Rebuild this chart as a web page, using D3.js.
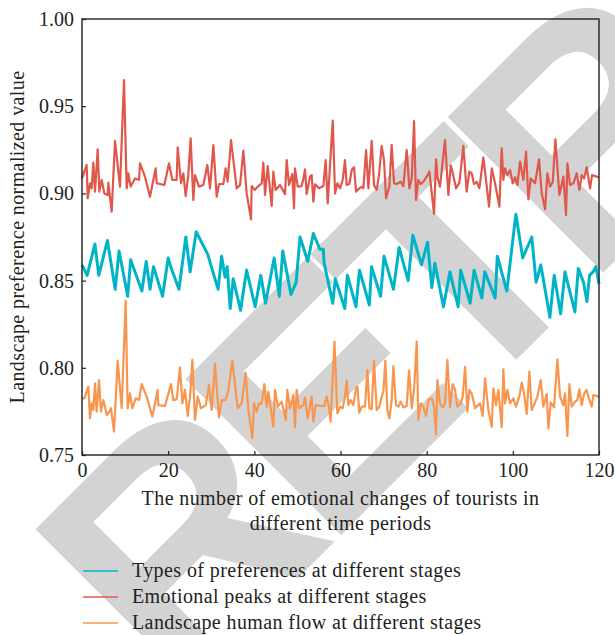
<!DOCTYPE html>
<html>
<head>
<meta charset="utf-8">
<script src="https://cdn.jsdelivr.net/npm/d3@7"></script>
<style>
  body { margin: 0; background: #fff; }
  svg { display: block; }
  text { font-family: "Liberation Serif", "DejaVu Serif", serif; fill: #231f20; }
</style>
</head>
<body>
<svg id="chart" width="615" height="635"></svg>
<script>
// series as [x, value]
const preferenceTypes = [
  [0,0.859],[1.2,0.853],[3.0,0.871],[3.9,0.853],[5.9,0.873],[7.7,0.845],[8.6,0.867],[10.6,0.841],
  [11.3,0.862],[13.9,0.844],[14.9,0.861],[15.8,0.845],[16.6,0.858],[18.7,0.841],[20.0,0.863],[20.6,0.858],
  [22.5,0.845],[24.1,0.875],[25.1,0.855],[26.5,0.878],[29.2,0.865],[29.9,0.859],[31.6,0.845],[32.4,0.864],
  [33.2,0.852],[33.7,0.858],[34.4,0.834],[35.1,0.851],[36.8,0.833],[38.2,0.856],[40.2,0.835],[41.5,0.853],
  [42.6,0.837],[44.6,0.863],[45.8,0.841],[46.6,0.867],[48.5,0.842],[49.7,0.849],[50.6,0.875],[52.4,0.861],
  [53.7,0.877],[55.2,0.868],[56.0,0.868],[56.2,0.860],[58.2,0.837],[58.8,0.851],[61.0,0.834],[61.6,0.853],
  [63.6,0.835],[64.4,0.856],[66.7,0.836],[67.2,0.858],[69.3,0.841],[70.1,0.864],[72.3,0.845],[73.6,0.869],
  [75.7,0.850],[76.8,0.876],[78.8,0.859],[80.2,0.872],[81.2,0.846],[81.9,0.860],[83.9,0.835],[85.4,0.855],
  [87.3,0.835],[87.9,0.856],[90.1,0.837],[91.0,0.856],[92.8,0.840],[93.5,0.855],[95.9,0.840],[96.4,0.864],
  [98.6,0.844],[100.7,0.888],[102.3,0.863],[104.4,0.875],[105.4,0.849],[106.5,0.859],[108.6,0.829],[109.6,0.853],
  [111.1,0.831],[112.1,0.855],[114.4,0.832],[115.2,0.857],[116.4,0.849],[117.2,0.838],[117.8,0.853],[118.6,0.855],
  [119.3,0.858],[120,0.848]
];

const emotionalPeaks = [
  [0,0.9086],[1.08,0.9163],[1.32,0.8972],[1.86,0.9058],[2.24,0.9029],[2.63,0.9176],[3.02,0.9010],[3.64,0.9253],
  [4.02,0.9010],[4.57,0.9077],[5.18,0.9000],[5.96,0.8991],[6.11,0.9062],[6.89,0.8895],[7.66,0.9302],[8.82,0.9039],
  [9.75,0.9650],[10.37,0.9029],[10.75,0.9115],[11.30,0.9039],[12.30,0.9086],[13.23,0.9077],[13.46,0.9172],[14.62,0.9096],
  [15.78,0.8981],[17.10,0.9144],[17.33,0.9058],[19.11,0.9048],[20.19,0.9172],[20.97,0.9077],[21.97,0.9077],[22.21,0.9264],
  [22.98,0.9058],[23.52,0.9115],[24.06,0.8985],[24.68,0.9105],[25.22,0.9316],[25.84,0.8962],[26.23,0.9105],[27.16,0.9039],
  [28.16,0.9048],[29.09,0.9163],[29.71,0.9029],[30.49,0.9277],[31.26,0.8981],[31.80,0.9054],[32.81,0.9054],[33.35,0.9144],
  [33.81,0.9067],[34.59,0.9306],[35.90,0.9029],[36.68,0.9048],[37.45,0.9245],[38.22,0.9000],[39.23,0.8851],[39.38,0.9042],
  [40.16,0.9020],[40.78,0.9039],[41.71,0.9058],[42.09,0.9176],[42.48,0.8991],[43.10,0.9157],[44.03,0.8928],[44.41,0.9125],
  [44.95,0.9020],[45.96,0.9048],[47.12,0.8996],[47.51,0.9191],[48.05,0.9048],[48.82,0.9111],[49.21,0.8914],[49.44,0.9144],
  [50.06,0.9039],[50.99,0.9042],[51.38,0.9086],[51.76,0.9138],[52.15,0.8996],[52.92,0.9096],[53.31,0.9105],[53.70,0.8952],
  [54.08,0.9052],[55.01,0.9029],[56.02,0.9042],[56.56,0.9191],[57.03,0.8943],[58.2,0.9417],[58.73,0.9000],[59.27,0.9058],
  [59.89,0.9029],[60.51,0.9077],[61.05,0.9191],[61.44,0.9048],[62.06,0.9054],[62.60,0.9134],[63.14,0.9150],[63.61,0.9010],
  [64.38,0.9029],[65.15,0.9039],[65.31,0.9029],[65.93,0.9249],[66.47,0.9029],[67.24,0.9302],[67.78,0.9048],[68.40,0.9020],
  [68.94,0.9105],[69.56,0.9272],[70.10,0.9191],[70.57,0.8972],[71.34,0.9039],[71.88,0.9278],[72.43,0.9058],[73.04,0.9054],
  [73.97,0.9067],[74.59,0.9042],[75.37,0.9249],[75.99,0.9029],[76.53,0.9086],[77.07,0.9415],[77.53,0.8962],[78.07,0.9077],
  [78.62,0.9054],[79.23,0.9067],[80.01,0.9096],[80.63,0.9125],[81.71,0.8882],[82.18,0.9195],[82.48,0.9096],[83.10,0.9039],
  [84.26,0.9306],[85.04,0.8991],[85.58,0.9161],[86.04,0.9119],[86.82,0.9029],[87.59,0.9062],[88.52,0.9272],[89.29,0.9010],
  [89.91,0.9125],[90.45,0.9115],[90.99,0.9054],[91.61,0.9067],[92.23,0.9029],[93.16,0.9207],[94.48,0.8924],[95.10,0.9143],
  [95.87,0.9058],[96.88,0.8924],[97.42,0.9258],[97.80,0.9077],[98.19,0.9143],[98.73,0.9105],[99.35,0.9134],[99.97,0.9058],
  [100.51,0.9092],[101.06,0.9048],[101.67,0.9182],[102.45,0.9077],[103.07,0.9239],[103.61,0.8965],[104.15,0.9086],[105.16,0.9058],
  [106.08,0.9195],[106.70,0.9000],[107.48,0.8909],[108.02,0.9115],[108.64,0.9039],[109.26,0.9064],[109.88,0.9310],[110.80,0.8991],
  [111.73,0.9096],[112.35,0.8876],[112.66,0.9172],[113.28,0.9048],[114.05,0.9058],[114.83,0.9115],[115.45,0.9020],[115.99,0.9105],
  [116.53,0.9086],[117.15,0.9150],[117.92,0.9029],[118.39,0.9105],[119.47,0.9096],[120,0.9092]
];

const humanFlow = [
  [0,0.7825],[0.54,0.7825],[1.47,0.7892],[1.86,0.7710],[2.24,0.7796],[2.63,0.7758],[3.02,0.7911],[3.40,0.7748],
  [3.95,0.7930],[4.41,0.7748],[4.95,0.7815],[5.34,0.7777],[5.73,0.7729],[6.11,0.7739],[6.73,0.7768],[7.43,0.7634],
  [8.28,0.8041],[9.21,0.7768],[10.14,0.8385],[10.60,0.7768],[11.14,0.7854],[11.68,0.7768],[12.46,0.7825],[13.23,0.7815],
  [13.85,0.7907],[15.01,0.7835],[16.33,0.7720],[17.56,0.7873],[17.72,0.7786],[19.27,0.7781],[20.66,0.7907],[21.20,0.7815],
  [21.97,0.7819],[22.75,0.8003],[23.29,0.7796],[23.91,0.7873],[24.53,0.7724],[25.07,0.7835],[25.61,0.8045],[26.23,0.7701],
  [26.85,0.7835],[27.62,0.7768],[28.71,0.7786],[29.48,0.7901],[30.10,0.7758],[30.87,0.8022],[31.80,0.7716],[32.42,0.7815],
  [33.35,0.7815],[33.97,0.7873],[34.90,0.8041],[36.13,0.7768],[37.06,0.7796],[37.99,0.7972],[38.61,0.7758],[39.54,0.7596],
  [39.93,0.7796],[40.55,0.7748],[41.09,0.7796],[41.71,0.7796],[42.32,0.7907],[42.87,0.7777],[43.25,0.7863],[44.41,0.7662],
  [44.80,0.7873],[45.42,0.7777],[46.35,0.7806],[47.28,0.7701],[47.66,0.7873],[48.28,0.7768],[49.06,0.7844],[49.44,0.7659],
  [49.83,0.7873],[50.37,0.7768],[51.38,0.7786],[51.76,0.7831],[52.38,0.7710],[53.31,0.7835],[53.70,0.7691],[54.24,0.7786],
  [55.25,0.7781],[56.25,0.7781],[56.79,0.7835],[57.33,0.7777],[57.70,0.7691],[58.6,0.8150],[59.27,0.7739],[59.89,0.7777],
  [60.51,0.7768],[61.05,0.7838],[61.44,0.7926],[61.83,0.7786],[62.37,0.7815],[62.99,0.7786],[63.61,0.7882],[63.91,0.7892],
  [64.38,0.7743],[64.92,0.7777],[65.69,0.7777],[66.24,0.7987],[66.70,0.7768],[67.24,0.7762],[67.78,0.8041],[68.40,0.7758],
  [69.02,0.7777],[69.56,0.7835],[69.95,0.7863],[70.41,0.8041],[70.88,0.7758],[71.34,0.7710],[71.88,0.7815],[72.27,0.8010],
  [72.89,0.7786],[73.43,0.7777],[73.97,0.7806],[74.59,0.7773],[75.37,0.7781],[75.91,0.7984],[76.53,0.7768],[77.07,0.7873],
  [77.69,0.8150],[78.07,0.7701],[78.62,0.7796],[79.23,0.7777],[79.85,0.7724],[80.40,0.7815],[81.17,0.7825],[81.71,0.7777],
  [82.18,0.7620],[82.48,0.7930],[83.10,0.7796],[83.72,0.7773],[84.26,0.7796],[84.81,0.8045],[85.43,0.7773],[86.04,0.7907],
  [86.59,0.7873],[87.13,0.7777],[87.90,0.7796],[88.37,0.7835],[88.91,0.8006],[89.45,0.7748],[89.91,0.7873],[90.45,0.7854],
  [91.23,0.7768],[92.39,0.7796],[93.01,0.7724],[93.55,0.7940],[94.32,0.7758],[95.10,0.7662],[95.48,0.7882],[96.10,0.7786],
  [96.64,0.7873],[97.42,0.7659],[97.80,0.7991],[98.19,0.7796],[98.73,0.7873],[99.35,0.7796],[100.13,0.7825],[100.75,0.7777],
  [101.52,0.7838],[102.06,0.7915],[102.60,0.7854],[103.22,0.7735],[103.84,0.7978],[104.38,0.7758],[104.92,0.7786],[105.70,0.7835],
  [106.47,0.7930],[107.09,0.7777],[107.86,0.7850],[108.25,0.7653],[108.79,0.7800],[109.57,0.7773],[110.34,0.8049],[110.96,0.7835],
  [111.73,0.7786],[112.12,0.7854],[112.66,0.7609],[113.13,0.7907],[113.67,0.7777],[114.44,0.7806],[114.98,0.7815],[115.45,0.7877],
  [115.99,0.7786],[116.53,0.7850],[117.15,0.7873],[117.53,0.7835],[118.31,0.7777],[118.70,0.7844],[120,0.7835]
];

const xTicks = [0, 20, 40, 60, 80, 100, 120];
const yTicks = [0.75, 0.80, 0.85, 0.90, 0.95, 1.00];
const seriesNames = [
  "Types of preferences at different stages",
  "Emotional peaks at different stages",
  "Landscape human flow at different stages"
];
const seriesColors = ["#00b4c8", "#e0574c", "#f8964f"];
const seriesWidths = [3, 2.2, 2.2];
const seriesData = [preferenceTypes, emotionalPeaks, humanFlow];

const svg = d3.select("#chart");
const margin = { top: 19, right: 16, bottom: 180, left: 82 };
const width = 615 - margin.left - margin.right;
const height = 635 - margin.top - margin.bottom;

// retraction stamp sits behind everything
svg.append("text")
   .attr("transform", "translate(176,700) rotate(-45)")
   .style("font-family", "'Liberation Sans', Arial, sans-serif")
   .style("font-weight", "bold")
   .style("font-size", "320px")
   .style("letter-spacing", "-19px")
   .style("fill", "#d3d3d3")
   .text("RETRACTED");

const x = d3.scaleLinear().domain([0, 120]).range([0, width]);
const y = d3.scaleLinear().domain([0.75, 1.0]).range([height, 0]);

const g = svg.append("g")
             .attr("transform", `translate(${margin.left},${margin.top})`);

const line = d3.line()
               .x(d => x(d[0]))
               .y(d => y(d[1]));

// draw order: orange, red, then blue on top
[2, 1, 0].forEach(i => {
    g.append("path")
     .datum(seriesData[i])
     .attr("fill", "none")
     .attr("stroke", seriesColors[i])
     .attr("stroke-width", seriesWidths[i])
     .attr("stroke-linejoin", "round")
     .attr("d", line);
});

// X Axis
const xAxis = g.append("g")
   .attr("transform", `translate(0,${height})`)
   .call(d3.axisBottom(x).tickValues(xTicks).tickSizeInner(-4).tickSizeOuter(0).tickPadding(8));

// Y Axis
const yAxis = g.append("g")
   .call(d3.axisLeft(y).tickValues(yTicks).tickFormat(d3.format(".2f"))
           .tickSizeInner(-4).tickSizeOuter(0).tickPadding(8));

[xAxis, yAxis].forEach(a => {
    a.select(".domain").remove();
    a.selectAll("line").attr("stroke", "#231f20").attr("stroke-width", 1.2);
    a.selectAll("text").style("font-size", "20px").style("fill", "#231f20")
     .style("font-family", "'Liberation Serif', serif");
});

// frame
g.append("rect")
 .attr("width", width)
 .attr("height", height)
 .attr("fill", "none")
 .attr("stroke", "#231f20")
 .attr("stroke-width", 1.4);

// axis titles
const titleStyle = sel => sel.style("font-size", "20px").style("letter-spacing", "0.4px");

svg.append("text")
   .attr("x", margin.left + width / 2)
   .attr("y", 505)
   .attr("text-anchor", "middle")
   .call(titleStyle)
   .text("The number of emotional changes of tourists in");
svg.append("text")
   .attr("x", margin.left + width / 2)
   .attr("y", 530)
   .attr("text-anchor", "middle")
   .call(titleStyle)
   .text("different time periods");

svg.append("text")
   .attr("transform", `translate(24,${margin.top + height / 2}) rotate(-90)`)
   .attr("text-anchor", "middle")
   .call(titleStyle)
   .text("Landscape preference normalized value");

// legend
const legend = svg.append("g");
seriesNames.forEach((name, i) => {
    const ly = 571 + i * 26;
    legend.append("line")
          .attr("x1", 83).attr("x2", 118)
          .attr("y1", ly).attr("y2", ly)
          .attr("stroke", seriesColors[i])
          .attr("stroke-width", 1.6);
    legend.append("text")
          .attr("x", 132)
          .attr("y", ly + 6)
          .call(titleStyle)
          .text(name);
});
</script>
</body>
</html>
